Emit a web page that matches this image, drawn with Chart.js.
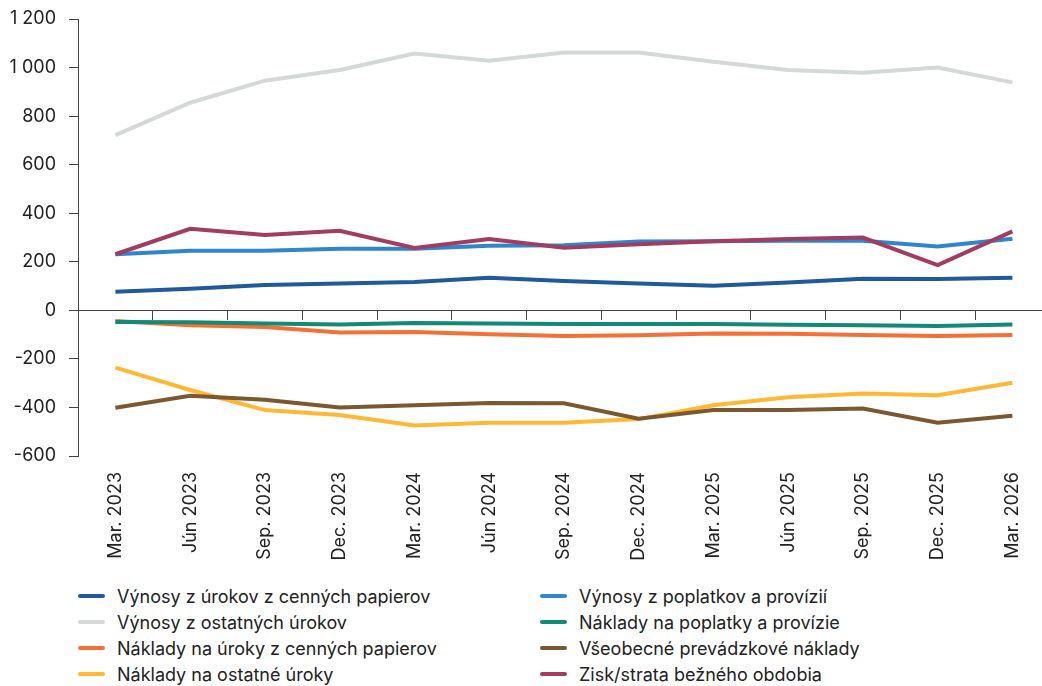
<!DOCTYPE html>
<html lang="sk">
<head>
    <meta charset="UTF-8">
    <title>Výnosy a náklady</title>
    <style>
        body {
            margin: 0;
            padding: 0;
            background: #fff;
            overflow: hidden;
            font-family: Inter, "Open Sans", sans-serif;
        }

        .wrap {
            position: relative;
            width: 1050px;
            height: 576px;
        }

        .legend {
            display: grid;
            grid-template-columns: 462px 460px;
            margin: 7px 0 0 78px;
        }

        .legend div {
            display: flex;
            align-items: center;
            height: 26px;
            font-size: 18px;
            color: #222;
            white-space: nowrap;
        }

        .legend span {
            display: inline-block;
            width: 27px;
            height: 4px;
            border-radius: 2px;
            margin-right: 12px;
        }
    </style>
</head>
<body>
    <div class="wrap">
        <canvas id="chart"></canvas>
    </div>
    <div class="legend" id="legend"></div>

    <script src="https://cdn.jsdelivr.net/npm/chart.js"></script>
    <script>
        // štvrťroky
        const categories = ['Mar. 2023', 'Jún 2023', 'Sep. 2023', 'Dec. 2023', 'Mar. 2024', 'Jún 2024', 'Sep. 2024',
            'Dec. 2024', 'Mar. 2025', 'Jún 2025', 'Sep. 2025', 'Dec. 2025', 'Mar. 2026'];

        // hodnoty jednotlivých radov
        const vynosyUrokyCP = [77, 89, 104, 111, 117, 134, 121, 111, 101, 115, 130, 129, 134];
        const vynosyPoplatky = [231, 245, 245, 254, 254, 266, 268, 284, 285, 287, 287, 263, 295];
        const vynosyOstatne = [722, 855, 946, 990, 1058, 1028, 1062, 1062, 1024, 990, 979, 1000, 939];
        const nakladyPoplatky = [-48, -49, -54, -58, -52, -54, -56, -56, -56, -59, -61, -65, -58];
        const nakladyUrokyCP = [-44, -61, -69, -91, -89, -99, -106, -103, -95, -96, -102, -106, -102];
        const vseobecneNaklady = [-401, -352, -368, -400, -391, -382, -383, -446, -411, -411, -404, -463, -434];
        const nakladyOstatne = [-236, -328, -411, -431, -474, -463, -463, -448, -391, -358, -343, -350, -298];
        const ziskStrata = [231, 336, 310, 328, 257, 294, 258, 272, 285, 294, 300, 186, 325];

        // os y
        const yTicks = [-600, -400, -200, 0, 200, 400, 600, 800, 1000, 1200];

        const series = [
            { label: 'Výnosy z úrokov z cenných papierov', data: vynosyUrokyCP, color: '#1f5a9c' },
            { label: 'Výnosy z poplatkov a provízií', data: vynosyPoplatky, color: '#2f86cc' },
            { label: 'Výnosy z ostatných úrokov', data: vynosyOstatne, color: '#d5d8d8' },
            { label: 'Náklady na poplatky a provízie', data: nakladyPoplatky, color: '#138a76' },
            { label: 'Náklady na úroky z cenných papierov', data: nakladyUrokyCP, color: '#f47035' },
            { label: 'Všeobecné prevádzkové náklady', data: vseobecneNaklady, color: '#7b5830' },
            { label: 'Náklady na ostatné úroky', data: nakladyOstatne, color: '#ffb833' },
            { label: 'Zisk/strata bežného obdobia', data: ziskStrata, color: '#a23c60' }
        ];

        const axisColor = '#444';
        const tickFont = { family: 'Inter', size: 18 };

        function formatNumber(v) {
            return String(v).replace(/\B(?=(\d{3})+(?!\d))/g, ' ');
        }

        const ctx = document.getElementById('chart').getContext('2d');
        new Chart(ctx, {
            type: 'line',
            data: {
                labels: categories,
                datasets: series.map((s, i) => ({
                    label: s.label,
                    data: s.data,
                    borderColor: s.color,
                    backgroundColor: s.color,
                    borderWidth: 4,
                    pointRadius: 0,
                    tension: 0,
                    fill: false,
                    order: s.data === ziskStrata ? -1 : i
                }))
            },
            options: {
                responsive: true,
                maintainAspectRatio: false,
                animation: false,
                layout: { padding: { top: 19, left: 0, right: 0, bottom: 0 } },
                plugins: {
                    legend: { display: false },
                    tooltip: { enabled: false }
                },
                scales: {
                    x: {
                        type: 'category',
                        offset: true,
                        grid: { display: false, drawTicks: false },
                        border: { display: false },
                        ticks: {
                            autoSkip: false,
                            minRotation: 90,
                            maxRotation: 90,
                            padding: 16,
                            color: '#222',
                            font: tickFont
                        },
                        afterFit: (scale) => { scale.height = 120; }
                    },
                    x0: {
                        type: 'category',
                        labels: categories,
                        offset: true,
                        position: { y: 0 },
                        grid: {
                            offset: true,
                            drawOnChartArea: false,
                            tickLength: 9,
                            color: axisColor,
                            lineWidth: 1
                        },
                        border: { display: true, color: axisColor, width: 1 },
                        ticks: { display: false }
                    },
                    y: {
                        min: -600,
                        max: 1200,
                        afterBuildTicks: (scale) => {
                            scale.ticks = yTicks.map(v => ({ value: v }));
                        },
                        grid: {
                            drawOnChartArea: false,
                            tickLength: 9,
                            color: axisColor,
                            lineWidth: 1
                        },
                        border: { display: true, color: axisColor, width: 1 },
                        ticks: {
                            padding: 13,
                            color: '#222',
                            font: tickFont,
                            callback: (v) => formatNumber(v)
                        },
                        afterFit: (scale) => {
                            scale.width = 78;
                            // padding nad 1 200 nech neposúva oblasť grafu
                            scale.paddingTop = 10;
                            scale.paddingBottom = 10;
                        }
                    }
                }
            }
        });

        // legenda v dvoch stĺpcoch
        const legend = document.getElementById('legend');
        series.forEach(s => {
            const item = document.createElement('div');
            const mark = document.createElement('span');
            mark.style.background = s.color;
            item.appendChild(mark);
            item.appendChild(document.createTextNode(s.label));
            legend.appendChild(item);
        });
    </script>
</body>
</html>
